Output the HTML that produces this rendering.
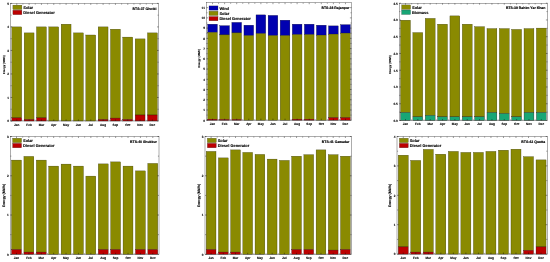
<!DOCTYPE html>
<html><head><meta charset="utf-8"><title>Energy charts</title>
<style>html,body{margin:0;padding:0;background:#fff;}body{width:550px;height:262px;overflow:hidden;font-family:"Liberation Sans",sans-serif;}</style></head>
<body>
<svg width="550" height="262" viewBox="0 0 550 262" style="display:block;will-change:transform;opacity:0.999" font-family="Liberation Sans, sans-serif" font-weight="bold" fill="#000" text-rendering="geometricPrecision">
<rect width="550" height="262" fill="#fff"/>
<rect x="11.83" y="26.90" width="9.87" height="91.00" fill="#8a8a00" stroke="#2a2a00" stroke-width="0.3"/>
<rect x="11.83" y="117.90" width="9.87" height="3.10" fill="#bc0000" stroke="#2a0000" stroke-width="0.3"/>
<text x="16.77" y="125.90" font-size="3.1" text-anchor="middle" stroke="#000" stroke-width="0.1">Jan</text>
<path d="M22.93 121.00v-1.2M22.93 3.40v1.2" stroke="#000" stroke-width="0.35"/>
<path d="M16.77 121.00v-1.5M16.77 3.40v1.5" stroke="#000" stroke-width="0.4"/>
<rect x="24.17" y="32.90" width="9.87" height="86.60" fill="#8a8a00" stroke="#2a2a00" stroke-width="0.3"/>
<rect x="24.17" y="119.50" width="9.87" height="1.50" fill="#bc0000" stroke="#2a0000" stroke-width="0.3"/>
<text x="29.10" y="125.90" font-size="3.1" text-anchor="middle" stroke="#000" stroke-width="0.1">Feb</text>
<path d="M35.27 121.00v-1.2M35.27 3.40v1.2" stroke="#000" stroke-width="0.35"/>
<path d="M29.10 121.00v-1.5M29.10 3.40v1.5" stroke="#000" stroke-width="0.4"/>
<rect x="36.50" y="26.90" width="9.87" height="91.00" fill="#8a8a00" stroke="#2a2a00" stroke-width="0.3"/>
<rect x="36.50" y="117.90" width="9.87" height="3.10" fill="#bc0000" stroke="#2a0000" stroke-width="0.3"/>
<text x="41.43" y="125.90" font-size="3.1" text-anchor="middle" stroke="#000" stroke-width="0.1">Mar</text>
<path d="M47.60 121.00v-1.2M47.60 3.40v1.2" stroke="#000" stroke-width="0.35"/>
<path d="M41.43 121.00v-1.5M41.43 3.40v1.5" stroke="#000" stroke-width="0.4"/>
<rect x="48.83" y="26.90" width="9.87" height="94.10" fill="#8a8a00" stroke="#2a2a00" stroke-width="0.3"/>
<text x="53.77" y="125.90" font-size="3.1" text-anchor="middle" stroke="#000" stroke-width="0.1">Apr</text>
<path d="M59.93 121.00v-1.2M59.93 3.40v1.2" stroke="#000" stroke-width="0.35"/>
<path d="M53.77 121.00v-1.5M53.77 3.40v1.5" stroke="#000" stroke-width="0.4"/>
<rect x="61.17" y="24.20" width="9.87" height="96.80" fill="#8a8a00" stroke="#2a2a00" stroke-width="0.3"/>
<text x="66.10" y="125.90" font-size="3.1" text-anchor="middle" stroke="#000" stroke-width="0.1">May</text>
<path d="M72.27 121.00v-1.2M72.27 3.40v1.2" stroke="#000" stroke-width="0.35"/>
<path d="M66.10 121.00v-1.5M66.10 3.40v1.5" stroke="#000" stroke-width="0.4"/>
<rect x="73.50" y="32.90" width="9.87" height="88.10" fill="#8a8a00" stroke="#2a2a00" stroke-width="0.3"/>
<text x="78.43" y="125.90" font-size="3.1" text-anchor="middle" stroke="#000" stroke-width="0.1">Jun</text>
<path d="M84.60 121.00v-1.2M84.60 3.40v1.2" stroke="#000" stroke-width="0.35"/>
<path d="M78.43 121.00v-1.5M78.43 3.40v1.5" stroke="#000" stroke-width="0.4"/>
<rect x="85.83" y="35.00" width="9.87" height="86.00" fill="#8a8a00" stroke="#2a2a00" stroke-width="0.3"/>
<text x="90.77" y="125.90" font-size="3.1" text-anchor="middle" stroke="#000" stroke-width="0.1">Jul</text>
<path d="M96.93 121.00v-1.2M96.93 3.40v1.2" stroke="#000" stroke-width="0.35"/>
<path d="M90.77 121.00v-1.5M90.77 3.40v1.5" stroke="#000" stroke-width="0.4"/>
<rect x="98.17" y="26.90" width="9.87" height="92.60" fill="#8a8a00" stroke="#2a2a00" stroke-width="0.3"/>
<rect x="98.17" y="119.50" width="9.87" height="1.50" fill="#bc0000" stroke="#2a0000" stroke-width="0.3"/>
<text x="103.10" y="125.90" font-size="3.1" text-anchor="middle" stroke="#000" stroke-width="0.1">Aug</text>
<path d="M109.27 121.00v-1.2M109.27 3.40v1.2" stroke="#000" stroke-width="0.35"/>
<path d="M103.10 121.00v-1.5M103.10 3.40v1.5" stroke="#000" stroke-width="0.4"/>
<rect x="110.50" y="29.20" width="9.87" height="88.90" fill="#8a8a00" stroke="#2a2a00" stroke-width="0.3"/>
<rect x="110.50" y="118.10" width="9.87" height="2.90" fill="#bc0000" stroke="#2a0000" stroke-width="0.3"/>
<text x="115.43" y="125.90" font-size="3.1" text-anchor="middle" stroke="#000" stroke-width="0.1">Sep</text>
<path d="M121.60 121.00v-1.2M121.60 3.40v1.2" stroke="#000" stroke-width="0.35"/>
<path d="M115.43 121.00v-1.5M115.43 3.40v1.5" stroke="#000" stroke-width="0.4"/>
<rect x="122.83" y="37.10" width="9.87" height="82.40" fill="#8a8a00" stroke="#2a2a00" stroke-width="0.3"/>
<rect x="122.83" y="119.50" width="9.87" height="1.50" fill="#bc0000" stroke="#2a0000" stroke-width="0.3"/>
<text x="127.77" y="125.90" font-size="3.1" text-anchor="middle" stroke="#000" stroke-width="0.1">Oct</text>
<path d="M133.93 121.00v-1.2M133.93 3.40v1.2" stroke="#000" stroke-width="0.35"/>
<path d="M127.77 121.00v-1.5M127.77 3.40v1.5" stroke="#000" stroke-width="0.4"/>
<rect x="135.17" y="38.90" width="9.87" height="76.10" fill="#8a8a00" stroke="#2a2a00" stroke-width="0.3"/>
<rect x="135.17" y="115.00" width="9.87" height="6.00" fill="#bc0000" stroke="#2a0000" stroke-width="0.3"/>
<text x="140.10" y="125.90" font-size="3.1" text-anchor="middle" stroke="#000" stroke-width="0.1">Nov</text>
<path d="M146.27 121.00v-1.2M146.27 3.40v1.2" stroke="#000" stroke-width="0.35"/>
<path d="M140.10 121.00v-1.5M140.10 3.40v1.5" stroke="#000" stroke-width="0.4"/>
<rect x="147.50" y="32.90" width="9.87" height="82.10" fill="#8a8a00" stroke="#2a2a00" stroke-width="0.3"/>
<rect x="147.50" y="115.00" width="9.87" height="6.00" fill="#bc0000" stroke="#2a0000" stroke-width="0.3"/>
<text x="152.43" y="125.90" font-size="3.1" text-anchor="middle" stroke="#000" stroke-width="0.1">Dec</text>
<path d="M152.43 121.00v-1.5M152.43 3.40v1.5" stroke="#000" stroke-width="0.4"/>
<rect x="10.60" y="3.40" width="148.00" height="117.60" fill="none" stroke="#333" stroke-width="0.4"/>
<path d="M10.60 121.00h1.6M158.60 121.00h-1.6" stroke="#000" stroke-width="0.4"/>
<text x="9.00" y="122.35" font-size="3.1" text-anchor="end" stroke="#000" stroke-width="0.1">0</text>
<path d="M10.60 97.48h1.6M158.60 97.48h-1.6" stroke="#000" stroke-width="0.4"/>
<text x="9.00" y="98.83" font-size="3.1" text-anchor="end" stroke="#000" stroke-width="0.1">1</text>
<path d="M10.60 73.96h1.6M158.60 73.96h-1.6" stroke="#000" stroke-width="0.4"/>
<text x="9.00" y="75.31" font-size="3.1" text-anchor="end" stroke="#000" stroke-width="0.1">2</text>
<path d="M10.60 50.44h1.6M158.60 50.44h-1.6" stroke="#000" stroke-width="0.4"/>
<text x="9.00" y="51.79" font-size="3.1" text-anchor="end" stroke="#000" stroke-width="0.1">3</text>
<path d="M10.60 26.92h1.6M158.60 26.92h-1.6" stroke="#000" stroke-width="0.4"/>
<text x="9.00" y="28.27" font-size="3.1" text-anchor="end" stroke="#000" stroke-width="0.1">4</text>
<path d="M10.60 3.40h1.6M158.60 3.40h-1.6" stroke="#000" stroke-width="0.4"/>
<text x="9.00" y="4.75" font-size="3.1" text-anchor="end" stroke="#000" stroke-width="0.1">5</text>
<path d="M10.60 109.24h1.1M158.60 109.24h-1.1" stroke="#000" stroke-width="0.35"/>
<path d="M10.60 85.72h1.1M158.60 85.72h-1.1" stroke="#000" stroke-width="0.35"/>
<path d="M10.60 62.20h1.1M158.60 62.20h-1.1" stroke="#000" stroke-width="0.35"/>
<path d="M10.60 38.68h1.1M158.60 38.68h-1.1" stroke="#000" stroke-width="0.35"/>
<path d="M10.60 15.16h1.1M158.60 15.16h-1.1" stroke="#000" stroke-width="0.35"/>
<text transform="translate(5.10 64.80) rotate(-90)" font-size="2.8" text-anchor="middle" stroke="#000" stroke-width="0.1">Energy (MWh)</text>
<text x="156.50" y="9.50" font-size="3.48" text-anchor="end" stroke="#000" stroke-width="0.15">BTS-37 Ghotki</text>
<rect x="12.90" y="5.10" width="9.0" height="4.5" fill="#8a8a00" stroke="#333" stroke-width="0.25"/>
<text x="23.30" y="8.85" font-size="3.95" stroke="#000" stroke-width="0.12">Solar</text>
<rect x="12.90" y="10.20" width="9.0" height="4.5" fill="#bc0000" stroke="#333" stroke-width="0.25"/>
<text x="23.30" y="13.95" font-size="3.95" stroke="#000" stroke-width="0.12">Diesel Generator</text>
<rect x="207.71" y="24.20" width="9.67" height="8.20" fill="#0000b0" stroke="#00002a" stroke-width="0.3"/>
<rect x="207.71" y="32.40" width="9.67" height="86.80" fill="#8a8a00" stroke="#2a2a00" stroke-width="0.3"/>
<rect x="207.71" y="119.20" width="9.67" height="1.00" fill="#bc0000" stroke="#2a0000" stroke-width="0.3"/>
<text x="212.54" y="125.10" font-size="3.1" text-anchor="middle" stroke="#000" stroke-width="0.1">Jan</text>
<path d="M218.58 120.20v-1.2M218.58 2.70v1.2" stroke="#000" stroke-width="0.35"/>
<path d="M212.54 120.20v-1.5M212.54 2.70v1.5" stroke="#000" stroke-width="0.4"/>
<rect x="219.79" y="25.70" width="9.67" height="9.20" fill="#0000b0" stroke="#00002a" stroke-width="0.3"/>
<rect x="219.79" y="34.90" width="9.67" height="84.60" fill="#8a8a00" stroke="#2a2a00" stroke-width="0.3"/>
<rect x="219.79" y="119.50" width="9.67" height="0.70" fill="#bc0000" stroke="#2a0000" stroke-width="0.3"/>
<text x="224.62" y="125.10" font-size="3.1" text-anchor="middle" stroke="#000" stroke-width="0.1">Feb</text>
<path d="M230.67 120.20v-1.2M230.67 2.70v1.2" stroke="#000" stroke-width="0.35"/>
<path d="M224.62 120.20v-1.5M224.62 2.70v1.5" stroke="#000" stroke-width="0.4"/>
<rect x="231.88" y="22.40" width="9.67" height="10.50" fill="#0000b0" stroke="#00002a" stroke-width="0.3"/>
<rect x="231.88" y="32.90" width="9.67" height="86.60" fill="#8a8a00" stroke="#2a2a00" stroke-width="0.3"/>
<rect x="231.88" y="119.50" width="9.67" height="0.70" fill="#bc0000" stroke="#2a0000" stroke-width="0.3"/>
<text x="236.71" y="125.10" font-size="3.1" text-anchor="middle" stroke="#000" stroke-width="0.1">Mar</text>
<path d="M242.75 120.20v-1.2M242.75 2.70v1.2" stroke="#000" stroke-width="0.35"/>
<path d="M236.71 120.20v-1.5M236.71 2.70v1.5" stroke="#000" stroke-width="0.4"/>
<rect x="243.96" y="25.20" width="9.67" height="10.40" fill="#0000b0" stroke="#00002a" stroke-width="0.3"/>
<rect x="243.96" y="35.60" width="9.67" height="84.60" fill="#8a8a00" stroke="#2a2a00" stroke-width="0.3"/>
<text x="248.79" y="125.10" font-size="3.1" text-anchor="middle" stroke="#000" stroke-width="0.1">Apr</text>
<path d="M254.83 120.20v-1.2M254.83 2.70v1.2" stroke="#000" stroke-width="0.35"/>
<path d="M248.79 120.20v-1.5M248.79 2.70v1.5" stroke="#000" stroke-width="0.4"/>
<rect x="256.04" y="14.90" width="9.67" height="18.70" fill="#0000b0" stroke="#00002a" stroke-width="0.3"/>
<rect x="256.04" y="33.60" width="9.67" height="86.60" fill="#8a8a00" stroke="#2a2a00" stroke-width="0.3"/>
<text x="260.88" y="125.10" font-size="3.1" text-anchor="middle" stroke="#000" stroke-width="0.1">May</text>
<path d="M266.92 120.20v-1.2M266.92 2.70v1.2" stroke="#000" stroke-width="0.35"/>
<path d="M260.88 120.20v-1.5M260.88 2.70v1.5" stroke="#000" stroke-width="0.4"/>
<rect x="268.13" y="15.40" width="9.67" height="20.20" fill="#0000b0" stroke="#00002a" stroke-width="0.3"/>
<rect x="268.13" y="35.60" width="9.67" height="84.60" fill="#8a8a00" stroke="#2a2a00" stroke-width="0.3"/>
<text x="272.96" y="125.10" font-size="3.1" text-anchor="middle" stroke="#000" stroke-width="0.1">Jun</text>
<path d="M279.00 120.20v-1.2M279.00 2.70v1.2" stroke="#000" stroke-width="0.35"/>
<path d="M272.96 120.20v-1.5M272.96 2.70v1.5" stroke="#000" stroke-width="0.4"/>
<rect x="280.21" y="20.20" width="9.67" height="15.40" fill="#0000b0" stroke="#00002a" stroke-width="0.3"/>
<rect x="280.21" y="35.60" width="9.67" height="84.60" fill="#8a8a00" stroke="#2a2a00" stroke-width="0.3"/>
<text x="285.04" y="125.10" font-size="3.1" text-anchor="middle" stroke="#000" stroke-width="0.1">Jul</text>
<path d="M291.08 120.20v-1.2M291.08 2.70v1.2" stroke="#000" stroke-width="0.35"/>
<path d="M285.04 120.20v-1.5M285.04 2.70v1.5" stroke="#000" stroke-width="0.4"/>
<rect x="292.29" y="24.20" width="9.67" height="10.40" fill="#0000b0" stroke="#00002a" stroke-width="0.3"/>
<rect x="292.29" y="34.60" width="9.67" height="84.60" fill="#8a8a00" stroke="#2a2a00" stroke-width="0.3"/>
<rect x="292.29" y="119.20" width="9.67" height="1.00" fill="#bc0000" stroke="#2a0000" stroke-width="0.3"/>
<text x="297.12" y="125.10" font-size="3.1" text-anchor="middle" stroke="#000" stroke-width="0.1">Aug</text>
<path d="M303.17 120.20v-1.2M303.17 2.70v1.2" stroke="#000" stroke-width="0.35"/>
<path d="M297.12 120.20v-1.5M297.12 2.70v1.5" stroke="#000" stroke-width="0.4"/>
<rect x="304.38" y="24.20" width="9.67" height="10.40" fill="#0000b0" stroke="#00002a" stroke-width="0.3"/>
<rect x="304.38" y="34.60" width="9.67" height="84.60" fill="#8a8a00" stroke="#2a2a00" stroke-width="0.3"/>
<rect x="304.38" y="119.20" width="9.67" height="1.00" fill="#bc0000" stroke="#2a0000" stroke-width="0.3"/>
<text x="309.21" y="125.10" font-size="3.1" text-anchor="middle" stroke="#000" stroke-width="0.1">Sep</text>
<path d="M315.25 120.20v-1.2M315.25 2.70v1.2" stroke="#000" stroke-width="0.35"/>
<path d="M309.21 120.20v-1.5M309.21 2.70v1.5" stroke="#000" stroke-width="0.4"/>
<rect x="316.46" y="25.20" width="9.67" height="9.90" fill="#0000b0" stroke="#00002a" stroke-width="0.3"/>
<rect x="316.46" y="35.10" width="9.67" height="85.10" fill="#8a8a00" stroke="#2a2a00" stroke-width="0.3"/>
<text x="321.29" y="125.10" font-size="3.1" text-anchor="middle" stroke="#000" stroke-width="0.1">Oct</text>
<path d="M327.33 120.20v-1.2M327.33 2.70v1.2" stroke="#000" stroke-width="0.35"/>
<path d="M321.29 120.20v-1.5M321.29 2.70v1.5" stroke="#000" stroke-width="0.4"/>
<rect x="328.54" y="25.90" width="9.67" height="8.20" fill="#0000b0" stroke="#00002a" stroke-width="0.3"/>
<rect x="328.54" y="34.10" width="9.67" height="83.60" fill="#8a8a00" stroke="#2a2a00" stroke-width="0.3"/>
<rect x="328.54" y="117.70" width="9.67" height="2.50" fill="#bc0000" stroke="#2a0000" stroke-width="0.3"/>
<text x="333.38" y="125.10" font-size="3.1" text-anchor="middle" stroke="#000" stroke-width="0.1">Nov</text>
<path d="M339.42 120.20v-1.2M339.42 2.70v1.2" stroke="#000" stroke-width="0.35"/>
<path d="M333.38 120.20v-1.5M333.38 2.70v1.5" stroke="#000" stroke-width="0.4"/>
<rect x="340.63" y="24.70" width="9.67" height="8.40" fill="#0000b0" stroke="#00002a" stroke-width="0.3"/>
<rect x="340.63" y="33.10" width="9.67" height="84.60" fill="#8a8a00" stroke="#2a2a00" stroke-width="0.3"/>
<rect x="340.63" y="117.70" width="9.67" height="2.50" fill="#bc0000" stroke="#2a0000" stroke-width="0.3"/>
<text x="345.46" y="125.10" font-size="3.1" text-anchor="middle" stroke="#000" stroke-width="0.1">Dec</text>
<path d="M345.46 120.20v-1.5M345.46 2.70v1.5" stroke="#000" stroke-width="0.4"/>
<rect x="206.50" y="2.70" width="145.00" height="117.50" fill="none" stroke="#333" stroke-width="0.4"/>
<path d="M206.50 120.20h1.6M351.50 120.20h-1.6" stroke="#000" stroke-width="0.4"/>
<text x="204.90" y="121.55" font-size="3.1" text-anchor="end" stroke="#000" stroke-width="0.1">0</text>
<path d="M206.50 109.97h1.6M351.50 109.97h-1.6" stroke="#000" stroke-width="0.4"/>
<text x="204.90" y="111.32" font-size="3.1" text-anchor="end" stroke="#000" stroke-width="0.1">1</text>
<path d="M206.50 99.74h1.6M351.50 99.74h-1.6" stroke="#000" stroke-width="0.4"/>
<text x="204.90" y="101.09" font-size="3.1" text-anchor="end" stroke="#000" stroke-width="0.1">2</text>
<path d="M206.50 89.51h1.6M351.50 89.51h-1.6" stroke="#000" stroke-width="0.4"/>
<text x="204.90" y="90.86" font-size="3.1" text-anchor="end" stroke="#000" stroke-width="0.1">3</text>
<path d="M206.50 79.28h1.6M351.50 79.28h-1.6" stroke="#000" stroke-width="0.4"/>
<text x="204.90" y="80.63" font-size="3.1" text-anchor="end" stroke="#000" stroke-width="0.1">4</text>
<path d="M206.50 69.05h1.6M351.50 69.05h-1.6" stroke="#000" stroke-width="0.4"/>
<text x="204.90" y="70.40" font-size="3.1" text-anchor="end" stroke="#000" stroke-width="0.1">5</text>
<path d="M206.50 58.82h1.6M351.50 58.82h-1.6" stroke="#000" stroke-width="0.4"/>
<text x="204.90" y="60.17" font-size="3.1" text-anchor="end" stroke="#000" stroke-width="0.1">6</text>
<path d="M206.50 48.58h1.6M351.50 48.58h-1.6" stroke="#000" stroke-width="0.4"/>
<text x="204.90" y="49.93" font-size="3.1" text-anchor="end" stroke="#000" stroke-width="0.1">7</text>
<path d="M206.50 38.35h1.6M351.50 38.35h-1.6" stroke="#000" stroke-width="0.4"/>
<text x="204.90" y="39.70" font-size="3.1" text-anchor="end" stroke="#000" stroke-width="0.1">8</text>
<path d="M206.50 28.12h1.6M351.50 28.12h-1.6" stroke="#000" stroke-width="0.4"/>
<text x="204.90" y="29.47" font-size="3.1" text-anchor="end" stroke="#000" stroke-width="0.1">9</text>
<path d="M206.50 17.89h1.6M351.50 17.89h-1.6" stroke="#000" stroke-width="0.4"/>
<text x="204.90" y="19.24" font-size="3.1" text-anchor="end" stroke="#000" stroke-width="0.1">10</text>
<path d="M206.50 7.66h1.6M351.50 7.66h-1.6" stroke="#000" stroke-width="0.4"/>
<text x="204.90" y="9.01" font-size="3.1" text-anchor="end" stroke="#000" stroke-width="0.1">11</text>
<path d="M206.50 115.08h1.1M351.50 115.08h-1.1" stroke="#000" stroke-width="0.35"/>
<path d="M206.50 104.85h1.1M351.50 104.85h-1.1" stroke="#000" stroke-width="0.35"/>
<path d="M206.50 94.62h1.1M351.50 94.62h-1.1" stroke="#000" stroke-width="0.35"/>
<path d="M206.50 84.39h1.1M351.50 84.39h-1.1" stroke="#000" stroke-width="0.35"/>
<path d="M206.50 74.16h1.1M351.50 74.16h-1.1" stroke="#000" stroke-width="0.35"/>
<path d="M206.50 63.93h1.1M351.50 63.93h-1.1" stroke="#000" stroke-width="0.35"/>
<path d="M206.50 53.70h1.1M351.50 53.70h-1.1" stroke="#000" stroke-width="0.35"/>
<path d="M206.50 43.47h1.1M351.50 43.47h-1.1" stroke="#000" stroke-width="0.35"/>
<path d="M206.50 33.24h1.1M351.50 33.24h-1.1" stroke="#000" stroke-width="0.35"/>
<path d="M206.50 23.01h1.1M351.50 23.01h-1.1" stroke="#000" stroke-width="0.35"/>
<path d="M206.50 12.78h1.1M351.50 12.78h-1.1" stroke="#000" stroke-width="0.35"/>
<text transform="translate(199.60 58.40) rotate(-90)" font-size="2.8" text-anchor="middle" stroke="#000" stroke-width="0.1">Energy (MWh)</text>
<text x="349.40" y="8.80" font-size="3.48" text-anchor="end" stroke="#000" stroke-width="0.15">BTS-38 Rajanpur</text>
<rect x="209.00" y="5.90" width="9.0" height="4.3" fill="#0000b0" stroke="#333" stroke-width="0.25"/>
<text x="219.40" y="9.55" font-size="3.95" stroke="#000" stroke-width="0.12">Wind</text>
<rect x="209.00" y="11.20" width="9.0" height="4.3" fill="#8a8a00" stroke="#333" stroke-width="0.25"/>
<text x="219.40" y="14.85" font-size="3.95" stroke="#000" stroke-width="0.12">Solar</text>
<rect x="209.00" y="16.50" width="9.0" height="4.3" fill="#bc0000" stroke="#333" stroke-width="0.25"/>
<text x="219.40" y="20.15" font-size="3.95" stroke="#000" stroke-width="0.12">Diesel Generator</text>
<rect x="400.54" y="20.20" width="9.88" height="92.30" fill="#8a8a00" stroke="#2a2a00" stroke-width="0.3"/>
<rect x="400.54" y="112.50" width="9.88" height="8.00" fill="#18a676" stroke="#2a0000" stroke-width="0.3"/>
<text x="405.48" y="125.40" font-size="3.1" text-anchor="middle" stroke="#000" stroke-width="0.1">Jan</text>
<path d="M411.65 120.50v-1.2M411.65 3.20v1.2" stroke="#000" stroke-width="0.35"/>
<path d="M405.48 120.50v-1.5M405.48 3.20v1.5" stroke="#000" stroke-width="0.4"/>
<rect x="412.88" y="32.60" width="9.88" height="84.20" fill="#8a8a00" stroke="#2a2a00" stroke-width="0.3"/>
<rect x="412.88" y="116.80" width="9.88" height="3.70" fill="#18a676" stroke="#2a0000" stroke-width="0.3"/>
<text x="417.82" y="125.40" font-size="3.1" text-anchor="middle" stroke="#000" stroke-width="0.1">Feb</text>
<path d="M424.00 120.50v-1.2M424.00 3.20v1.2" stroke="#000" stroke-width="0.35"/>
<path d="M417.82 120.50v-1.5M417.82 3.20v1.5" stroke="#000" stroke-width="0.4"/>
<rect x="425.24" y="18.40" width="9.88" height="96.90" fill="#8a8a00" stroke="#2a2a00" stroke-width="0.3"/>
<rect x="425.24" y="115.30" width="9.88" height="5.20" fill="#18a676" stroke="#2a0000" stroke-width="0.3"/>
<text x="430.18" y="125.40" font-size="3.1" text-anchor="middle" stroke="#000" stroke-width="0.1">Mar</text>
<path d="M436.35 120.50v-1.2M436.35 3.20v1.2" stroke="#000" stroke-width="0.35"/>
<path d="M430.18 120.50v-1.5M430.18 3.20v1.5" stroke="#000" stroke-width="0.4"/>
<rect x="437.59" y="24.20" width="9.88" height="92.60" fill="#8a8a00" stroke="#2a2a00" stroke-width="0.3"/>
<rect x="437.59" y="116.80" width="9.88" height="3.70" fill="#18a676" stroke="#2a0000" stroke-width="0.3"/>
<text x="442.53" y="125.40" font-size="3.1" text-anchor="middle" stroke="#000" stroke-width="0.1">Apr</text>
<path d="M448.70 120.50v-1.2M448.70 3.20v1.2" stroke="#000" stroke-width="0.35"/>
<path d="M442.53 120.50v-1.5M442.53 3.20v1.5" stroke="#000" stroke-width="0.4"/>
<rect x="449.94" y="15.90" width="9.88" height="100.90" fill="#8a8a00" stroke="#2a2a00" stroke-width="0.3"/>
<rect x="449.94" y="116.80" width="9.88" height="3.70" fill="#18a676" stroke="#2a0000" stroke-width="0.3"/>
<text x="454.88" y="125.40" font-size="3.1" text-anchor="middle" stroke="#000" stroke-width="0.1">May</text>
<path d="M461.05 120.50v-1.2M461.05 3.20v1.2" stroke="#000" stroke-width="0.35"/>
<path d="M454.88 120.50v-1.5M454.88 3.20v1.5" stroke="#000" stroke-width="0.4"/>
<rect x="462.29" y="24.20" width="9.88" height="92.60" fill="#8a8a00" stroke="#2a2a00" stroke-width="0.3"/>
<rect x="462.29" y="116.80" width="9.88" height="3.70" fill="#18a676" stroke="#2a0000" stroke-width="0.3"/>
<text x="467.23" y="125.40" font-size="3.1" text-anchor="middle" stroke="#000" stroke-width="0.1">Jun</text>
<path d="M473.40 120.50v-1.2M473.40 3.20v1.2" stroke="#000" stroke-width="0.35"/>
<path d="M467.23 120.50v-1.5M467.23 3.20v1.5" stroke="#000" stroke-width="0.4"/>
<rect x="474.63" y="26.70" width="9.88" height="90.10" fill="#8a8a00" stroke="#2a2a00" stroke-width="0.3"/>
<rect x="474.63" y="116.80" width="9.88" height="3.70" fill="#18a676" stroke="#2a0000" stroke-width="0.3"/>
<text x="479.57" y="125.40" font-size="3.1" text-anchor="middle" stroke="#000" stroke-width="0.1">Jul</text>
<path d="M485.75 120.50v-1.2M485.75 3.20v1.2" stroke="#000" stroke-width="0.35"/>
<path d="M479.57 120.50v-1.5M479.57 3.20v1.5" stroke="#000" stroke-width="0.4"/>
<rect x="486.99" y="28.60" width="9.88" height="83.90" fill="#8a8a00" stroke="#2a2a00" stroke-width="0.3"/>
<rect x="486.99" y="112.50" width="9.88" height="8.00" fill="#18a676" stroke="#2a0000" stroke-width="0.3"/>
<text x="491.93" y="125.40" font-size="3.1" text-anchor="middle" stroke="#000" stroke-width="0.1">Aug</text>
<path d="M498.10 120.50v-1.2M498.10 3.20v1.2" stroke="#000" stroke-width="0.35"/>
<path d="M491.93 120.50v-1.5M491.93 3.20v1.5" stroke="#000" stroke-width="0.4"/>
<rect x="499.33" y="28.60" width="9.88" height="84.90" fill="#8a8a00" stroke="#2a2a00" stroke-width="0.3"/>
<rect x="499.33" y="113.50" width="9.88" height="7.00" fill="#18a676" stroke="#2a0000" stroke-width="0.3"/>
<text x="504.27" y="125.40" font-size="3.1" text-anchor="middle" stroke="#000" stroke-width="0.1">Sep</text>
<path d="M510.45 120.50v-1.2M510.45 3.20v1.2" stroke="#000" stroke-width="0.35"/>
<path d="M504.27 120.50v-1.5M504.27 3.20v1.5" stroke="#000" stroke-width="0.4"/>
<rect x="511.69" y="29.40" width="9.88" height="87.40" fill="#8a8a00" stroke="#2a2a00" stroke-width="0.3"/>
<rect x="511.69" y="116.80" width="9.88" height="3.70" fill="#18a676" stroke="#2a0000" stroke-width="0.3"/>
<text x="516.62" y="125.40" font-size="3.1" text-anchor="middle" stroke="#000" stroke-width="0.1">Oct</text>
<path d="M522.80 120.50v-1.2M522.80 3.20v1.2" stroke="#000" stroke-width="0.35"/>
<path d="M516.62 120.50v-1.5M516.62 3.20v1.5" stroke="#000" stroke-width="0.4"/>
<rect x="524.03" y="28.60" width="9.88" height="83.90" fill="#8a8a00" stroke="#2a2a00" stroke-width="0.3"/>
<rect x="524.03" y="112.50" width="9.88" height="8.00" fill="#18a676" stroke="#2a0000" stroke-width="0.3"/>
<text x="528.98" y="125.40" font-size="3.1" text-anchor="middle" stroke="#000" stroke-width="0.1">Nov</text>
<path d="M535.15 120.50v-1.2M535.15 3.20v1.2" stroke="#000" stroke-width="0.35"/>
<path d="M528.98 120.50v-1.5M528.98 3.20v1.5" stroke="#000" stroke-width="0.4"/>
<rect x="536.38" y="28.10" width="9.88" height="84.40" fill="#8a8a00" stroke="#2a2a00" stroke-width="0.3"/>
<rect x="536.38" y="112.50" width="9.88" height="8.00" fill="#18a676" stroke="#2a0000" stroke-width="0.3"/>
<text x="541.33" y="125.40" font-size="3.1" text-anchor="middle" stroke="#000" stroke-width="0.1">Dec</text>
<path d="M541.33 120.50v-1.5M541.33 3.20v1.5" stroke="#000" stroke-width="0.4"/>
<rect x="399.30" y="3.20" width="148.20" height="117.30" fill="none" stroke="#333" stroke-width="0.4"/>
<path d="M399.30 120.50h1.6M547.50 120.50h-1.6" stroke="#000" stroke-width="0.4"/>
<text x="397.70" y="121.85" font-size="3.1" text-anchor="end" stroke="#000" stroke-width="0.1">0.0</text>
<path d="M399.30 103.74h1.6M547.50 103.74h-1.6" stroke="#000" stroke-width="0.4"/>
<text x="397.70" y="105.09" font-size="3.1" text-anchor="end" stroke="#000" stroke-width="0.1">0.5</text>
<path d="M399.30 86.99h1.6M547.50 86.99h-1.6" stroke="#000" stroke-width="0.4"/>
<text x="397.70" y="88.34" font-size="3.1" text-anchor="end" stroke="#000" stroke-width="0.1">1.0</text>
<path d="M399.30 70.23h1.6M547.50 70.23h-1.6" stroke="#000" stroke-width="0.4"/>
<text x="397.70" y="71.58" font-size="3.1" text-anchor="end" stroke="#000" stroke-width="0.1">1.5</text>
<path d="M399.30 53.47h1.6M547.50 53.47h-1.6" stroke="#000" stroke-width="0.4"/>
<text x="397.70" y="54.82" font-size="3.1" text-anchor="end" stroke="#000" stroke-width="0.1">2.0</text>
<path d="M399.30 36.71h1.6M547.50 36.71h-1.6" stroke="#000" stroke-width="0.4"/>
<text x="397.70" y="38.06" font-size="3.1" text-anchor="end" stroke="#000" stroke-width="0.1">2.5</text>
<path d="M399.30 19.96h1.6M547.50 19.96h-1.6" stroke="#000" stroke-width="0.4"/>
<text x="397.70" y="21.31" font-size="3.1" text-anchor="end" stroke="#000" stroke-width="0.1">3.0</text>
<path d="M399.30 3.20h1.6M547.50 3.20h-1.6" stroke="#000" stroke-width="0.4"/>
<text x="397.70" y="4.55" font-size="3.1" text-anchor="end" stroke="#000" stroke-width="0.1">3.5</text>
<path d="M399.30 112.12h1.1M547.50 112.12h-1.1" stroke="#000" stroke-width="0.35"/>
<path d="M399.30 95.36h1.1M547.50 95.36h-1.1" stroke="#000" stroke-width="0.35"/>
<path d="M399.30 78.61h1.1M547.50 78.61h-1.1" stroke="#000" stroke-width="0.35"/>
<path d="M399.30 61.85h1.1M547.50 61.85h-1.1" stroke="#000" stroke-width="0.35"/>
<path d="M399.30 45.09h1.1M547.50 45.09h-1.1" stroke="#000" stroke-width="0.35"/>
<path d="M399.30 28.34h1.1M547.50 28.34h-1.1" stroke="#000" stroke-width="0.35"/>
<path d="M399.30 11.58h1.1M547.50 11.58h-1.1" stroke="#000" stroke-width="0.35"/>
<text transform="translate(390.60 64.70) rotate(-90)" font-size="2.8" text-anchor="middle" stroke="#000" stroke-width="0.1">Energy (MWh)</text>
<text x="545.40" y="9.30" font-size="3.48" text-anchor="end" stroke="#000" stroke-width="0.15">BTS-39 Rahim Yar Khan</text>
<rect x="401.60" y="4.90" width="9.0" height="4.5" fill="#8a8a00" stroke="#333" stroke-width="0.25"/>
<text x="412.00" y="8.65" font-size="3.95" stroke="#000" stroke-width="0.12">Solar</text>
<rect x="401.60" y="10.00" width="9.0" height="4.5" fill="#18a676" stroke="#333" stroke-width="0.25"/>
<text x="412.00" y="13.75" font-size="3.95" stroke="#000" stroke-width="0.12">Biomass</text>
<rect x="11.54" y="160.10" width="9.91" height="89.50" fill="#8a8a00" stroke="#2a2a00" stroke-width="0.3"/>
<rect x="11.54" y="249.60" width="9.91" height="4.70" fill="#bc0000" stroke="#2a0000" stroke-width="0.3"/>
<text x="16.50" y="259.20" font-size="3.1" text-anchor="middle" stroke="#000" stroke-width="0.1">Jan</text>
<path d="M22.69 254.30v-1.2M22.69 136.50v1.2" stroke="#000" stroke-width="0.35"/>
<path d="M16.50 254.30v-1.5M16.50 136.50v1.5" stroke="#000" stroke-width="0.4"/>
<rect x="23.93" y="156.40" width="9.91" height="95.70" fill="#8a8a00" stroke="#2a2a00" stroke-width="0.3"/>
<rect x="23.93" y="252.10" width="9.91" height="2.20" fill="#bc0000" stroke="#2a0000" stroke-width="0.3"/>
<text x="28.89" y="259.20" font-size="3.1" text-anchor="middle" stroke="#000" stroke-width="0.1">Feb</text>
<path d="M35.08 254.30v-1.2M35.08 136.50v1.2" stroke="#000" stroke-width="0.35"/>
<path d="M28.89 254.30v-1.5M28.89 136.50v1.5" stroke="#000" stroke-width="0.4"/>
<rect x="36.32" y="160.10" width="9.91" height="92.00" fill="#8a8a00" stroke="#2a2a00" stroke-width="0.3"/>
<rect x="36.32" y="252.10" width="9.91" height="2.20" fill="#bc0000" stroke="#2a0000" stroke-width="0.3"/>
<text x="41.28" y="259.20" font-size="3.1" text-anchor="middle" stroke="#000" stroke-width="0.1">Mar</text>
<path d="M47.48 254.30v-1.2M47.48 136.50v1.2" stroke="#000" stroke-width="0.35"/>
<path d="M41.28 254.30v-1.5M41.28 136.50v1.5" stroke="#000" stroke-width="0.4"/>
<rect x="48.71" y="166.10" width="9.91" height="88.20" fill="#8a8a00" stroke="#2a2a00" stroke-width="0.3"/>
<text x="53.67" y="259.20" font-size="3.1" text-anchor="middle" stroke="#000" stroke-width="0.1">Apr</text>
<path d="M59.87 254.30v-1.2M59.87 136.50v1.2" stroke="#000" stroke-width="0.35"/>
<path d="M53.67 254.30v-1.5M53.67 136.50v1.5" stroke="#000" stroke-width="0.4"/>
<rect x="61.11" y="164.10" width="9.91" height="90.20" fill="#8a8a00" stroke="#2a2a00" stroke-width="0.3"/>
<text x="66.06" y="259.20" font-size="3.1" text-anchor="middle" stroke="#000" stroke-width="0.1">May</text>
<path d="M72.26 254.30v-1.2M72.26 136.50v1.2" stroke="#000" stroke-width="0.35"/>
<path d="M66.06 254.30v-1.5M66.06 136.50v1.5" stroke="#000" stroke-width="0.4"/>
<rect x="73.50" y="166.10" width="9.91" height="88.20" fill="#8a8a00" stroke="#2a2a00" stroke-width="0.3"/>
<text x="78.45" y="259.20" font-size="3.1" text-anchor="middle" stroke="#000" stroke-width="0.1">Jun</text>
<path d="M84.65 254.30v-1.2M84.65 136.50v1.2" stroke="#000" stroke-width="0.35"/>
<path d="M78.45 254.30v-1.5M78.45 136.50v1.5" stroke="#000" stroke-width="0.4"/>
<rect x="85.89" y="176.10" width="9.91" height="78.20" fill="#8a8a00" stroke="#2a2a00" stroke-width="0.3"/>
<text x="90.85" y="259.20" font-size="3.1" text-anchor="middle" stroke="#000" stroke-width="0.1">Jul</text>
<path d="M97.04 254.30v-1.2M97.04 136.50v1.2" stroke="#000" stroke-width="0.35"/>
<path d="M90.85 254.30v-1.5M90.85 136.50v1.5" stroke="#000" stroke-width="0.4"/>
<rect x="98.28" y="163.90" width="9.91" height="85.70" fill="#8a8a00" stroke="#2a2a00" stroke-width="0.3"/>
<rect x="98.28" y="249.60" width="9.91" height="4.70" fill="#bc0000" stroke="#2a0000" stroke-width="0.3"/>
<text x="103.24" y="259.20" font-size="3.1" text-anchor="middle" stroke="#000" stroke-width="0.1">Aug</text>
<path d="M109.43 254.30v-1.2M109.43 136.50v1.2" stroke="#000" stroke-width="0.35"/>
<path d="M103.24 254.30v-1.5M103.24 136.50v1.5" stroke="#000" stroke-width="0.4"/>
<rect x="110.67" y="161.90" width="9.91" height="87.70" fill="#8a8a00" stroke="#2a2a00" stroke-width="0.3"/>
<rect x="110.67" y="249.60" width="9.91" height="4.70" fill="#bc0000" stroke="#2a0000" stroke-width="0.3"/>
<text x="115.63" y="259.20" font-size="3.1" text-anchor="middle" stroke="#000" stroke-width="0.1">Sep</text>
<path d="M121.82 254.30v-1.2M121.82 136.50v1.2" stroke="#000" stroke-width="0.35"/>
<path d="M115.63 254.30v-1.5M115.63 136.50v1.5" stroke="#000" stroke-width="0.4"/>
<rect x="123.06" y="166.10" width="9.91" height="88.20" fill="#8a8a00" stroke="#2a2a00" stroke-width="0.3"/>
<text x="128.02" y="259.20" font-size="3.1" text-anchor="middle" stroke="#000" stroke-width="0.1">Oct</text>
<path d="M134.22 254.30v-1.2M134.22 136.50v1.2" stroke="#000" stroke-width="0.35"/>
<path d="M128.02 254.30v-1.5M128.02 136.50v1.5" stroke="#000" stroke-width="0.4"/>
<rect x="135.46" y="170.90" width="9.91" height="78.70" fill="#8a8a00" stroke="#2a2a00" stroke-width="0.3"/>
<rect x="135.46" y="249.60" width="9.91" height="4.70" fill="#bc0000" stroke="#2a0000" stroke-width="0.3"/>
<text x="140.41" y="259.20" font-size="3.1" text-anchor="middle" stroke="#000" stroke-width="0.1">Nov</text>
<path d="M146.61 254.30v-1.2M146.61 136.50v1.2" stroke="#000" stroke-width="0.35"/>
<path d="M140.41 254.30v-1.5M140.41 136.50v1.5" stroke="#000" stroke-width="0.4"/>
<rect x="147.85" y="163.40" width="9.91" height="86.20" fill="#8a8a00" stroke="#2a2a00" stroke-width="0.3"/>
<rect x="147.85" y="249.60" width="9.91" height="4.70" fill="#bc0000" stroke="#2a0000" stroke-width="0.3"/>
<text x="152.80" y="259.20" font-size="3.1" text-anchor="middle" stroke="#000" stroke-width="0.1">Dec</text>
<path d="M152.80 254.30v-1.5M152.80 136.50v1.5" stroke="#000" stroke-width="0.4"/>
<rect x="10.30" y="136.50" width="148.70" height="117.80" fill="none" stroke="#333" stroke-width="0.4"/>
<path d="M10.30 254.30h1.6M159.00 254.30h-1.6" stroke="#000" stroke-width="0.4"/>
<text x="8.70" y="255.65" font-size="3.1" text-anchor="end" stroke="#000" stroke-width="0.1">0</text>
<path d="M10.30 215.03h1.6M159.00 215.03h-1.6" stroke="#000" stroke-width="0.4"/>
<text x="8.70" y="216.38" font-size="3.1" text-anchor="end" stroke="#000" stroke-width="0.1">1</text>
<path d="M10.30 175.77h1.6M159.00 175.77h-1.6" stroke="#000" stroke-width="0.4"/>
<text x="8.70" y="177.12" font-size="3.1" text-anchor="end" stroke="#000" stroke-width="0.1">2</text>
<path d="M10.30 136.50h1.6M159.00 136.50h-1.6" stroke="#000" stroke-width="0.4"/>
<text x="8.70" y="137.85" font-size="3.1" text-anchor="end" stroke="#000" stroke-width="0.1">3</text>
<path d="M10.30 234.67h1.1M159.00 234.67h-1.1" stroke="#000" stroke-width="0.35"/>
<path d="M10.30 195.40h1.1M159.00 195.40h-1.1" stroke="#000" stroke-width="0.35"/>
<path d="M10.30 156.13h1.1M159.00 156.13h-1.1" stroke="#000" stroke-width="0.35"/>
<text transform="translate(4.90 195.60) rotate(-90)" font-size="3.5" text-anchor="middle" stroke="#000" stroke-width="0.1">Energy (MWh)</text>
<text x="156.90" y="142.60" font-size="3.48" text-anchor="end" stroke="#000" stroke-width="0.15">BTS-40 Shukkur</text>
<rect x="12.60" y="138.20" width="9.0" height="4.5" fill="#8a8a00" stroke="#333" stroke-width="0.25"/>
<text x="23.00" y="141.95" font-size="3.95" stroke="#000" stroke-width="0.12">Solar</text>
<rect x="12.60" y="143.30" width="9.0" height="4.5" fill="#bc0000" stroke="#333" stroke-width="0.25"/>
<text x="23.00" y="147.05" font-size="3.95" stroke="#000" stroke-width="0.12">Diesel Generator</text>
<rect x="206.22" y="151.40" width="9.77" height="98.20" fill="#8a8a00" stroke="#2a2a00" stroke-width="0.3"/>
<rect x="206.22" y="249.60" width="9.77" height="4.70" fill="#bc0000" stroke="#2a0000" stroke-width="0.3"/>
<text x="211.10" y="259.20" font-size="3.1" text-anchor="middle" stroke="#000" stroke-width="0.1">Jan</text>
<path d="M217.21 254.30v-1.2M217.21 136.50v1.2" stroke="#000" stroke-width="0.35"/>
<path d="M211.10 254.30v-1.5M211.10 136.50v1.5" stroke="#000" stroke-width="0.4"/>
<rect x="218.43" y="157.90" width="9.77" height="94.20" fill="#8a8a00" stroke="#2a2a00" stroke-width="0.3"/>
<rect x="218.43" y="252.10" width="9.77" height="2.20" fill="#bc0000" stroke="#2a0000" stroke-width="0.3"/>
<text x="223.31" y="259.20" font-size="3.1" text-anchor="middle" stroke="#000" stroke-width="0.1">Feb</text>
<path d="M229.42 254.30v-1.2M229.42 136.50v1.2" stroke="#000" stroke-width="0.35"/>
<path d="M223.31 254.30v-1.5M223.31 136.50v1.5" stroke="#000" stroke-width="0.4"/>
<rect x="230.64" y="149.90" width="9.77" height="102.20" fill="#8a8a00" stroke="#2a2a00" stroke-width="0.3"/>
<rect x="230.64" y="252.10" width="9.77" height="2.20" fill="#bc0000" stroke="#2a0000" stroke-width="0.3"/>
<text x="235.52" y="259.20" font-size="3.1" text-anchor="middle" stroke="#000" stroke-width="0.1">Mar</text>
<path d="M241.62 254.30v-1.2M241.62 136.50v1.2" stroke="#000" stroke-width="0.35"/>
<path d="M235.52 254.30v-1.5M235.52 136.50v1.5" stroke="#000" stroke-width="0.4"/>
<rect x="242.85" y="152.40" width="9.77" height="101.90" fill="#8a8a00" stroke="#2a2a00" stroke-width="0.3"/>
<text x="247.73" y="259.20" font-size="3.1" text-anchor="middle" stroke="#000" stroke-width="0.1">Apr</text>
<path d="M253.83 254.30v-1.2M253.83 136.50v1.2" stroke="#000" stroke-width="0.35"/>
<path d="M247.73 254.30v-1.5M247.73 136.50v1.5" stroke="#000" stroke-width="0.4"/>
<rect x="255.05" y="154.40" width="9.77" height="99.90" fill="#8a8a00" stroke="#2a2a00" stroke-width="0.3"/>
<text x="259.94" y="259.20" font-size="3.1" text-anchor="middle" stroke="#000" stroke-width="0.1">May</text>
<path d="M266.04 254.30v-1.2M266.04 136.50v1.2" stroke="#000" stroke-width="0.35"/>
<path d="M259.94 254.30v-1.5M259.94 136.50v1.5" stroke="#000" stroke-width="0.4"/>
<rect x="267.26" y="159.10" width="9.77" height="95.20" fill="#8a8a00" stroke="#2a2a00" stroke-width="0.3"/>
<text x="272.15" y="259.20" font-size="3.1" text-anchor="middle" stroke="#000" stroke-width="0.1">Jun</text>
<path d="M278.25 254.30v-1.2M278.25 136.50v1.2" stroke="#000" stroke-width="0.35"/>
<path d="M272.15 254.30v-1.5M272.15 136.50v1.5" stroke="#000" stroke-width="0.4"/>
<rect x="279.47" y="160.40" width="9.77" height="93.90" fill="#8a8a00" stroke="#2a2a00" stroke-width="0.3"/>
<text x="284.35" y="259.20" font-size="3.1" text-anchor="middle" stroke="#000" stroke-width="0.1">Jul</text>
<path d="M290.46 254.30v-1.2M290.46 136.50v1.2" stroke="#000" stroke-width="0.35"/>
<path d="M284.35 254.30v-1.5M284.35 136.50v1.5" stroke="#000" stroke-width="0.4"/>
<rect x="291.68" y="156.20" width="9.77" height="93.40" fill="#8a8a00" stroke="#2a2a00" stroke-width="0.3"/>
<rect x="291.68" y="249.60" width="9.77" height="4.70" fill="#bc0000" stroke="#2a0000" stroke-width="0.3"/>
<text x="296.56" y="259.20" font-size="3.1" text-anchor="middle" stroke="#000" stroke-width="0.1">Aug</text>
<path d="M302.67 254.30v-1.2M302.67 136.50v1.2" stroke="#000" stroke-width="0.35"/>
<path d="M296.56 254.30v-1.5M296.56 136.50v1.5" stroke="#000" stroke-width="0.4"/>
<rect x="303.89" y="154.70" width="9.77" height="94.90" fill="#8a8a00" stroke="#2a2a00" stroke-width="0.3"/>
<rect x="303.89" y="249.60" width="9.77" height="4.70" fill="#bc0000" stroke="#2a0000" stroke-width="0.3"/>
<text x="308.77" y="259.20" font-size="3.1" text-anchor="middle" stroke="#000" stroke-width="0.1">Sep</text>
<path d="M314.88 254.30v-1.2M314.88 136.50v1.2" stroke="#000" stroke-width="0.35"/>
<path d="M308.77 254.30v-1.5M308.77 136.50v1.5" stroke="#000" stroke-width="0.4"/>
<rect x="316.10" y="149.90" width="9.77" height="104.40" fill="#8a8a00" stroke="#2a2a00" stroke-width="0.3"/>
<text x="320.98" y="259.20" font-size="3.1" text-anchor="middle" stroke="#000" stroke-width="0.1">Oct</text>
<path d="M327.08 254.30v-1.2M327.08 136.50v1.2" stroke="#000" stroke-width="0.35"/>
<path d="M320.98 254.30v-1.5M320.98 136.50v1.5" stroke="#000" stroke-width="0.4"/>
<rect x="328.30" y="154.70" width="9.77" height="95.40" fill="#8a8a00" stroke="#2a2a00" stroke-width="0.3"/>
<rect x="328.30" y="250.10" width="9.77" height="4.20" fill="#bc0000" stroke="#2a0000" stroke-width="0.3"/>
<text x="333.19" y="259.20" font-size="3.1" text-anchor="middle" stroke="#000" stroke-width="0.1">Nov</text>
<path d="M339.29 254.30v-1.2M339.29 136.50v1.2" stroke="#000" stroke-width="0.35"/>
<path d="M333.19 254.30v-1.5M333.19 136.50v1.5" stroke="#000" stroke-width="0.4"/>
<rect x="340.51" y="156.20" width="9.77" height="93.40" fill="#8a8a00" stroke="#2a2a00" stroke-width="0.3"/>
<rect x="340.51" y="249.60" width="9.77" height="4.70" fill="#bc0000" stroke="#2a0000" stroke-width="0.3"/>
<text x="345.40" y="259.20" font-size="3.1" text-anchor="middle" stroke="#000" stroke-width="0.1">Dec</text>
<path d="M345.40 254.30v-1.5M345.40 136.50v1.5" stroke="#000" stroke-width="0.4"/>
<rect x="205.00" y="136.50" width="146.50" height="117.80" fill="none" stroke="#333" stroke-width="0.4"/>
<path d="M205.00 254.30h1.6M351.50 254.30h-1.6" stroke="#000" stroke-width="0.4"/>
<text x="203.40" y="255.65" font-size="3.1" text-anchor="end" stroke="#000" stroke-width="0.1">0</text>
<path d="M205.00 215.03h1.6M351.50 215.03h-1.6" stroke="#000" stroke-width="0.4"/>
<text x="203.40" y="216.38" font-size="3.1" text-anchor="end" stroke="#000" stroke-width="0.1">1</text>
<path d="M205.00 175.77h1.6M351.50 175.77h-1.6" stroke="#000" stroke-width="0.4"/>
<text x="203.40" y="177.12" font-size="3.1" text-anchor="end" stroke="#000" stroke-width="0.1">2</text>
<path d="M205.00 136.50h1.6M351.50 136.50h-1.6" stroke="#000" stroke-width="0.4"/>
<text x="203.40" y="137.85" font-size="3.1" text-anchor="end" stroke="#000" stroke-width="0.1">3</text>
<path d="M205.00 234.67h1.1M351.50 234.67h-1.1" stroke="#000" stroke-width="0.35"/>
<path d="M205.00 195.40h1.1M351.50 195.40h-1.1" stroke="#000" stroke-width="0.35"/>
<path d="M205.00 156.13h1.1M351.50 156.13h-1.1" stroke="#000" stroke-width="0.35"/>
<text transform="translate(199.80 195.60) rotate(-90)" font-size="3.5" text-anchor="middle" stroke="#000" stroke-width="0.1">Energy (MWh)</text>
<text x="349.40" y="142.60" font-size="3.48" text-anchor="end" stroke="#000" stroke-width="0.15">BTS-41 Gawadar</text>
<rect x="207.30" y="138.20" width="9.0" height="4.5" fill="#8a8a00" stroke="#333" stroke-width="0.25"/>
<text x="217.70" y="141.95" font-size="3.95" stroke="#000" stroke-width="0.12">Solar</text>
<rect x="207.30" y="143.30" width="9.0" height="4.5" fill="#bc0000" stroke="#333" stroke-width="0.25"/>
<text x="217.70" y="147.05" font-size="3.95" stroke="#000" stroke-width="0.12">Diesel Generator</text>
<rect x="398.25" y="155.20" width="10.02" height="91.70" fill="#8a8a00" stroke="#2a2a00" stroke-width="0.3"/>
<rect x="398.25" y="246.90" width="10.02" height="7.20" fill="#bc0000" stroke="#2a0000" stroke-width="0.3"/>
<text x="403.26" y="259.00" font-size="3.1" text-anchor="middle" stroke="#000" stroke-width="0.1">Jan</text>
<path d="M409.52 254.10v-1.2M409.52 136.50v1.2" stroke="#000" stroke-width="0.35"/>
<path d="M403.26 254.10v-1.5M403.26 136.50v1.5" stroke="#000" stroke-width="0.4"/>
<rect x="410.78" y="160.40" width="10.02" height="91.70" fill="#8a8a00" stroke="#2a2a00" stroke-width="0.3"/>
<rect x="410.78" y="252.10" width="10.02" height="2.00" fill="#bc0000" stroke="#2a0000" stroke-width="0.3"/>
<text x="415.79" y="259.00" font-size="3.1" text-anchor="middle" stroke="#000" stroke-width="0.1">Feb</text>
<path d="M422.05 254.10v-1.2M422.05 136.50v1.2" stroke="#000" stroke-width="0.35"/>
<path d="M415.79 254.10v-1.5M415.79 136.50v1.5" stroke="#000" stroke-width="0.4"/>
<rect x="423.30" y="149.40" width="10.02" height="102.70" fill="#8a8a00" stroke="#2a2a00" stroke-width="0.3"/>
<rect x="423.30" y="252.10" width="10.02" height="2.00" fill="#bc0000" stroke="#2a0000" stroke-width="0.3"/>
<text x="428.31" y="259.00" font-size="3.1" text-anchor="middle" stroke="#000" stroke-width="0.1">Mar</text>
<path d="M434.57 254.10v-1.2M434.57 136.50v1.2" stroke="#000" stroke-width="0.35"/>
<path d="M428.31 254.10v-1.5M428.31 136.50v1.5" stroke="#000" stroke-width="0.4"/>
<rect x="435.83" y="154.20" width="10.02" height="99.90" fill="#8a8a00" stroke="#2a2a00" stroke-width="0.3"/>
<text x="440.84" y="259.00" font-size="3.1" text-anchor="middle" stroke="#000" stroke-width="0.1">Apr</text>
<path d="M447.10 254.10v-1.2M447.10 136.50v1.2" stroke="#000" stroke-width="0.35"/>
<path d="M440.84 254.10v-1.5M440.84 136.50v1.5" stroke="#000" stroke-width="0.4"/>
<rect x="448.35" y="151.40" width="10.02" height="102.70" fill="#8a8a00" stroke="#2a2a00" stroke-width="0.3"/>
<text x="453.36" y="259.00" font-size="3.1" text-anchor="middle" stroke="#000" stroke-width="0.1">May</text>
<path d="M459.62 254.10v-1.2M459.62 136.50v1.2" stroke="#000" stroke-width="0.35"/>
<path d="M453.36 254.10v-1.5M453.36 136.50v1.5" stroke="#000" stroke-width="0.4"/>
<rect x="460.88" y="152.40" width="10.02" height="101.70" fill="#8a8a00" stroke="#2a2a00" stroke-width="0.3"/>
<text x="465.89" y="259.00" font-size="3.1" text-anchor="middle" stroke="#000" stroke-width="0.1">Jun</text>
<path d="M472.15 254.10v-1.2M472.15 136.50v1.2" stroke="#000" stroke-width="0.35"/>
<path d="M465.89 254.10v-1.5M465.89 136.50v1.5" stroke="#000" stroke-width="0.4"/>
<rect x="473.40" y="152.40" width="10.02" height="101.70" fill="#8a8a00" stroke="#2a2a00" stroke-width="0.3"/>
<text x="478.41" y="259.00" font-size="3.1" text-anchor="middle" stroke="#000" stroke-width="0.1">Jul</text>
<path d="M484.67 254.10v-1.2M484.67 136.50v1.2" stroke="#000" stroke-width="0.35"/>
<path d="M478.41 254.10v-1.5M478.41 136.50v1.5" stroke="#000" stroke-width="0.4"/>
<rect x="485.93" y="151.40" width="10.02" height="102.70" fill="#8a8a00" stroke="#2a2a00" stroke-width="0.3"/>
<text x="490.94" y="259.00" font-size="3.1" text-anchor="middle" stroke="#000" stroke-width="0.1">Aug</text>
<path d="M497.20 254.10v-1.2M497.20 136.50v1.2" stroke="#000" stroke-width="0.35"/>
<path d="M490.94 254.10v-1.5M490.94 136.50v1.5" stroke="#000" stroke-width="0.4"/>
<rect x="498.45" y="150.20" width="10.02" height="103.90" fill="#8a8a00" stroke="#2a2a00" stroke-width="0.3"/>
<text x="503.46" y="259.00" font-size="3.1" text-anchor="middle" stroke="#000" stroke-width="0.1">Sep</text>
<path d="M509.72 254.10v-1.2M509.72 136.50v1.2" stroke="#000" stroke-width="0.35"/>
<path d="M503.46 254.10v-1.5M503.46 136.50v1.5" stroke="#000" stroke-width="0.4"/>
<rect x="510.98" y="149.20" width="10.02" height="104.90" fill="#8a8a00" stroke="#2a2a00" stroke-width="0.3"/>
<text x="515.99" y="259.00" font-size="3.1" text-anchor="middle" stroke="#000" stroke-width="0.1">Oct</text>
<path d="M522.25 254.10v-1.2M522.25 136.50v1.2" stroke="#000" stroke-width="0.35"/>
<path d="M515.99 254.10v-1.5M515.99 136.50v1.5" stroke="#000" stroke-width="0.4"/>
<rect x="523.50" y="156.70" width="10.02" height="93.70" fill="#8a8a00" stroke="#2a2a00" stroke-width="0.3"/>
<rect x="523.50" y="250.40" width="10.02" height="3.70" fill="#bc0000" stroke="#2a0000" stroke-width="0.3"/>
<text x="528.51" y="259.00" font-size="3.1" text-anchor="middle" stroke="#000" stroke-width="0.1">Nov</text>
<path d="M534.77 254.10v-1.2M534.77 136.50v1.2" stroke="#000" stroke-width="0.35"/>
<path d="M528.51 254.10v-1.5M528.51 136.50v1.5" stroke="#000" stroke-width="0.4"/>
<rect x="536.03" y="159.90" width="10.02" height="87.00" fill="#8a8a00" stroke="#2a2a00" stroke-width="0.3"/>
<rect x="536.03" y="246.90" width="10.02" height="7.20" fill="#bc0000" stroke="#2a0000" stroke-width="0.3"/>
<text x="541.04" y="259.00" font-size="3.1" text-anchor="middle" stroke="#000" stroke-width="0.1">Dec</text>
<path d="M541.04 254.10v-1.5M541.04 136.50v1.5" stroke="#000" stroke-width="0.4"/>
<rect x="397.00" y="136.50" width="150.30" height="117.60" fill="none" stroke="#333" stroke-width="0.4"/>
<path d="M397.00 254.10h1.6M547.30 254.10h-1.6" stroke="#000" stroke-width="0.4"/>
<text x="395.40" y="255.45" font-size="3.1" text-anchor="end" stroke="#000" stroke-width="0.1">0</text>
<path d="M397.00 224.70h1.6M547.30 224.70h-1.6" stroke="#000" stroke-width="0.4"/>
<text x="395.40" y="226.05" font-size="3.1" text-anchor="end" stroke="#000" stroke-width="0.1">1</text>
<path d="M397.00 195.30h1.6M547.30 195.30h-1.6" stroke="#000" stroke-width="0.4"/>
<text x="395.40" y="196.65" font-size="3.1" text-anchor="end" stroke="#000" stroke-width="0.1">2</text>
<path d="M397.00 165.90h1.6M547.30 165.90h-1.6" stroke="#000" stroke-width="0.4"/>
<text x="395.40" y="167.25" font-size="3.1" text-anchor="end" stroke="#000" stroke-width="0.1">3</text>
<path d="M397.00 136.50h1.6M547.30 136.50h-1.6" stroke="#000" stroke-width="0.4"/>
<text x="395.40" y="137.85" font-size="3.1" text-anchor="end" stroke="#000" stroke-width="0.1">4</text>
<path d="M397.00 239.40h1.1M547.30 239.40h-1.1" stroke="#000" stroke-width="0.35"/>
<path d="M397.00 210.00h1.1M547.30 210.00h-1.1" stroke="#000" stroke-width="0.35"/>
<path d="M397.00 180.60h1.1M547.30 180.60h-1.1" stroke="#000" stroke-width="0.35"/>
<path d="M397.00 151.20h1.1M547.30 151.20h-1.1" stroke="#000" stroke-width="0.35"/>
<text transform="translate(390.60 195.60) rotate(-90)" font-size="3.5" text-anchor="middle" stroke="#000" stroke-width="0.1">Energy (MWh)</text>
<text x="545.20" y="142.60" font-size="3.48" text-anchor="end" stroke="#000" stroke-width="0.15">BTS-42 Quetta</text>
<rect x="399.30" y="138.20" width="9.0" height="4.5" fill="#8a8a00" stroke="#333" stroke-width="0.25"/>
<text x="409.70" y="141.95" font-size="3.95" stroke="#000" stroke-width="0.12">Solar</text>
<rect x="399.30" y="143.30" width="9.0" height="4.5" fill="#bc0000" stroke="#333" stroke-width="0.25"/>
<text x="409.70" y="147.05" font-size="3.95" stroke="#000" stroke-width="0.12">Diesel Generator</text>
</svg>
</body></html>
